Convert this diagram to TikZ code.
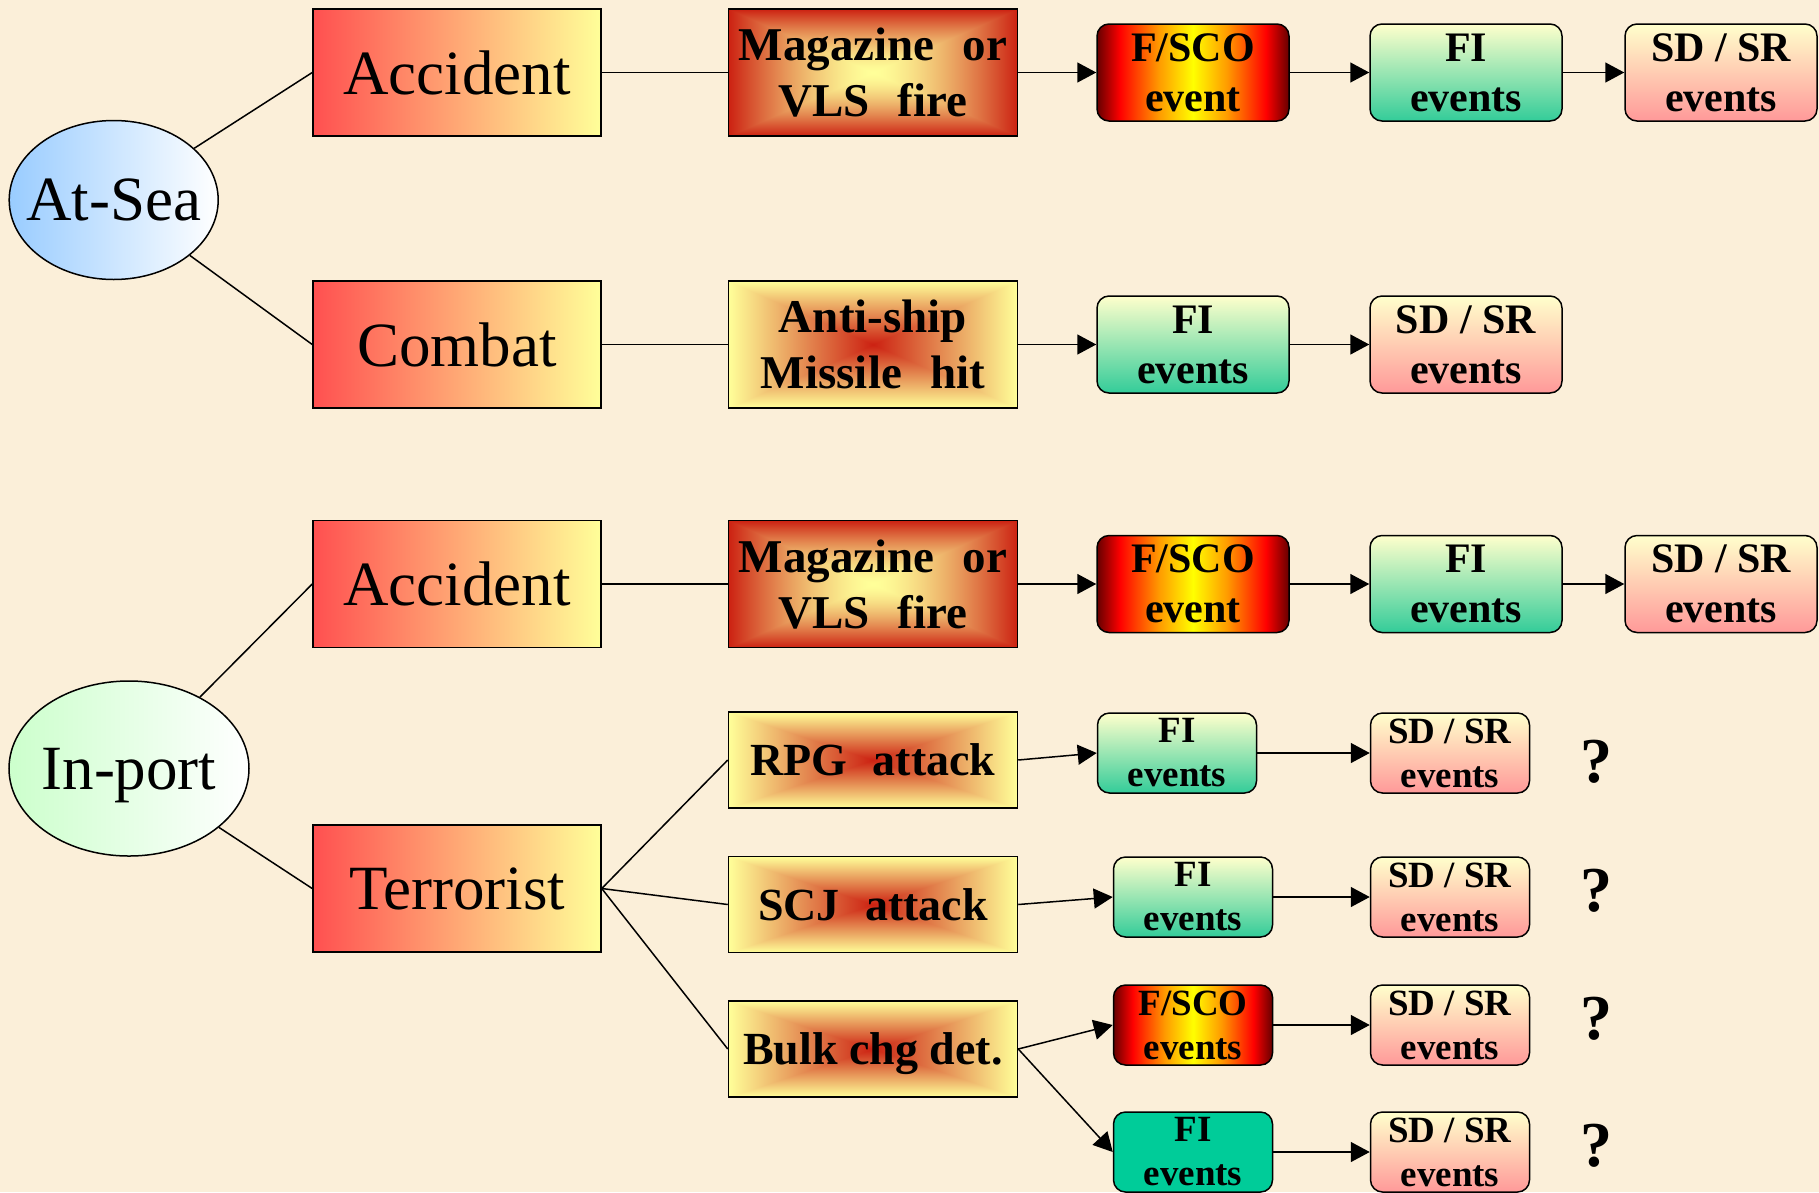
\documentclass[tikz,border=0pt]{standalone}
\usepackage{fontspec}
\setmainfont{Liberation Serif}
\usepackage{xcolor}
\usepackage{tikz}
\usetikzlibrary{positioning,shapes.geometric,arrows.meta}
\definecolor{paper}{HTML}{FBEFD9}
\definecolor{hazred}{HTML}{FF5050}
\definecolor{hazyel}{HTML}{FFFF99}
\definecolor{seablue}{HTML}{99CCFF}
\definecolor{portgreen}{HTML}{CCFFCC}
\definecolor{fitop}{HTML}{FFFFCC}
\definecolor{fibot}{HTML}{33CC99}
\definecolor{sdbot}{HTML}{FF9999}
\definecolor{fifull}{HTML}{00CC99}
\definecolor{fscodark}{HTML}{660000}
\definecolor{fscored}{HTML}{FF0000}
\definecolor{fscoorange}{HTML}{FF9900}
\definecolor{fscoyel}{HTML}{FFFF00}

\pgfdeclarehorizontalshading{fscoshade}{100bp}{color(0bp)=(fscodark); color(25bp)=(fscodark);
  color(31bp)=(fscored); color(41bp)=(fscoorange); color(50bp)=(fscoyel);
  color(59bp)=(fscoorange); color(69bp)=(fscored); color(75bp)=(fscodark); color(100bp)=(fscodark)}
\pgfdeclarefunctionalshading{magshade}{\pgfpoint{-50bp}{-50bp}}{\pgfpoint{50bp}{50bp}}{}{
  abs exch abs 2 copy lt {exch} if pop 25 div dup 1 gt {pop 1} if dup sqrt mul
  dup -0.2 mul 1 add exch dup -0.87 mul 1 add exch -0.53 mul 0.6 add
}
\pgfdeclarefunctionalshading{hitshade}{\pgfpoint{-50bp}{-50bp}}{\pgfpoint{50bp}{50bp}}{}{
  abs exch abs 2 copy lt {exch} if pop 25 div dup 1 gt {pop 1} if
  dup 0.2 mul 0.8 add exch dup 0.87 mul 0.13 add exch 0.53 mul 0.07 add
}

\begin{document}
\begin{tikzpicture}[x=1pt, y=-1pt,
  place/.style={ellipse, draw, line width=1.5pt, left color=#1, right color=white,
    inner sep=0pt, text depth=0pt, font=\fontsize{63}{70}\selectfont},
  cause/.style={rectangle, draw, line width=1.5pt, left color=hazred, right color=hazyel,
    minimum width=288pt, minimum height=127pt, inner sep=0pt, text depth=0pt,
    font=\fontsize{63}{70}\selectfont},
  hit/.style={rectangle, draw, line width=1.5pt, shade, shading=#1,
    minimum width=289pt, minimum height=127pt, inner sep=0pt, text depth=0pt,
    align=center, font=\bfseries\fontsize{47}{56}\selectfont},
  attack/.style={hit=hitshade, minimum height=96pt,
    font=\bfseries\fontsize{46}{52}\selectfont},
  event/.style={rectangle, rounded corners=12pt, draw, line width=1.5pt,
    minimum width=192pt, minimum height=97pt, inner sep=0pt, align=center,
    font=\bfseries\fontsize{42}{50}\selectfont},
  minor/.style={event, minimum width=159pt, minimum height=80pt,
    font=\bfseries\fontsize{37}{44}\selectfont},
  fsco/.style={shade, shading=fscoshade},
  fi/.style={top color=fitop, bottom color=fibot},
  sdsr/.style={top color=fitop, bottom color=sdbot},
  link/.style={line width=1.5pt},
  flow/.style={link, -{Triangle[length=19pt, width=20pt]}},
  query/.style={font=\bfseries\fontsize{64}{64}\selectfont}
]

\useasboundingbox (0,0) rectangle (1819,1192);
\fill[paper] (0,0) rectangle (1819,1192);

% at sea
\node[place=seablue, minimum width=209pt, minimum height=159pt] (atsea) at (113.7,200) {\makebox[0pt]{At-Sea}};
\node[cause] (acc1) at (457,72.5) {Accident};
\node[cause] (combat) at (457,344.5) {Combat};
\node[hit=magshade] (mag1) at (873,72.5) {Magazine\hspace{.6em}or\\VLS\hspace{.6em}fire};
\node[hit=hitshade] (anti) at (873,344.5) {Anti-ship\\Missile\hspace{.6em}hit};
\node[event, fsco] (fsco1) at (1193,72.5) {F/SCO\\event};
\node[event, fi] (fi1) at (1466,72.5) {FI\\events};
\node[event, sdsr] (sd1) at (1721,72.5) {SD / SR\\events};
\node[event, fi] (fi2) at (1193,344.5) {FI\\events};
\node[event, sdsr] (sd2) at (1466,344.5) {SD / SR\\events};

% in port
\node[place=portgreen, minimum width=240pt, minimum height=175pt] (inport) at (129,768.5) {\makebox[0pt]{In-port}};
\node[cause] (acc2) at (457,584) {Accident};
\node[cause] (terror) at (457,888.5) {Terrorist};
\node[hit=magshade] (mag2) at (873,584) {Magazine\hspace{.6em}or\\VLS\hspace{.6em}fire};
\node[event, fsco] (fsco2) at (1193,584) {F/SCO\\event};
\node[event, fi] (fi3) at (1466,584) {FI\\events};
\node[event, sdsr] (sd3) at (1721,584) {SD / SR\\events};

\node[attack] (rpg) at (873,760) {RPG\hspace{.55em}attack};
\node[attack] (scj) at (873,904.5) {SCJ\hspace{.55em}attack};
\node[attack] (bulk) at (873,1049) {Bulk chg det.};

\node[minor, fi] (rpgfi) at (1177,753) {FI\\events};
\node[minor, sdsr] (rpgsd) at (1450,753) {SD / SR\\events};
\node[minor, fi] (scjfi) at (1193,897) {FI\\events};
\node[minor, sdsr] (scjsd) at (1450,897) {SD / SR\\events};
\node[minor, fsco] (bulkfsco) at (1193,1025) {F/SCO\\events};
\node[minor, sdsr] (bulksd) at (1450,1025) {SD / SR\\events};
\node[minor, fill=fifull] (bulkfi) at (1193,1152) {FI\\events};
\node[minor, sdsr] (bulkfisd) at (1450,1152) {SD / SR\\events};

\node[query] (q1) at (1596,762) {?};
\node[query] (q2) at (1596,891) {?};
\node[query] (q3) at (1596,1019) {?};
\node[query] (q4) at (1596,1146) {?};

\draw[link] (atsea) -- (acc1.west);
\draw[link] (atsea) -- (combat.west);
\draw[link] (acc1) -- (mag1);
\draw[link] (combat) -- (anti);
\draw[flow] (mag1) -- (fsco1);
\draw[flow] (fsco1) -- (fi1);
\draw[flow] (fi1) -- (sd1);
\draw[flow] (anti) -- (fi2);
\draw[flow] (fi2) -- (sd2);

\draw[link] (inport) -- (acc2.west);
\draw[link] (inport) -- (terror.west);
\draw[link] (acc2) -- (mag2);
\draw[flow] (mag2) -- (fsco2);
\draw[flow] (fsco2) -- (fi3);
\draw[flow] (fi3) -- (sd3);

\draw[link] (terror.east) -- (rpg.west);
\draw[link] (terror.east) -- (scj.west);
\draw[link] (terror.east) -- (bulk.west);
\draw[flow] (rpg.east) -- (rpgfi.west);
\draw[flow] (scj.east) -- (scjfi.west);
\draw[flow] (bulk.east) -- (bulkfsco.west);
\draw[flow] (bulk.east) -- (bulkfi.west);
\draw[flow] (rpgfi) -- (rpgsd);
\draw[flow] (scjfi) -- (scjsd);
\draw[flow] (bulkfsco) -- (bulksd);
\draw[flow] (bulkfi) -- (bulkfisd);

\end{tikzpicture}
\end{document}
